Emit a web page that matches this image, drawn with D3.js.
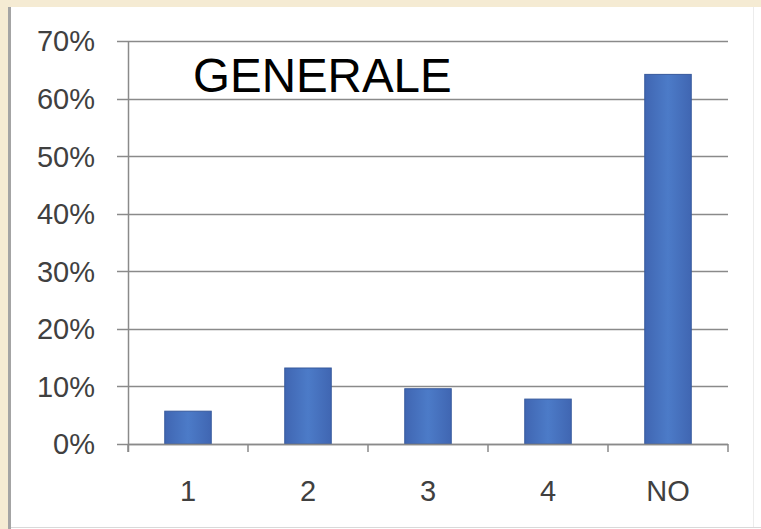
<!DOCTYPE html>
<html>
<head>
<meta charset="utf-8">
<script src="https://cdn.jsdelivr.net/npm/d3@7"></script>
<style>
  html, body { margin: 0; padding: 0; background: #f5ebd3; }
  svg { display: block; }
</style>
</head>
<body>
<script>
// Risposte per categoria (quota sul totale)
const categories = ["1", "2", "3", "4", "NO"];
const values = [0.057, 0.132, 0.096, 0.078, 0.642];
const yTicks = [0, 0.1, 0.2, 0.3, 0.4, 0.5, 0.6, 0.7];
const title = "GENERALE";

const W = 761, H = 529;
const svg = d3.select("body").append("svg").attr("width", W).attr("height", H);

// Frame: beige page, grey left rule, white panel
svg.append("rect").attr("width", W).attr("height", H).attr("fill", "#f5ebd3");
svg.append("rect").attr("x", 11).attr("y", 7).attr("width", W - 11).attr("height", H - 7).attr("fill", "#ffffff");
svg.append("rect").attr("x", 8).attr("y", 7).attr("width", 3).attr("height", H - 7).attr("fill", "#a4a4a4");
svg.append("line").attr("x1", 11).attr("x2", W).attr("y1", 527.5).attr("y2", 527.5)
  .attr("stroke", "#d9d9d9").attr("stroke-width", 1);
svg.append("line").attr("x1", 753.5).attr("x2", 753.5).attr("y1", 7).attr("y2", 527)
  .attr("stroke", "#ececec").attr("stroke-width", 1);

const plotLeft = 128, plotRight = 728, plotTop = 41, plotBottom = 444;

const x = d3.scaleBand().domain(categories).range([plotLeft, plotRight])
  .paddingInner(0.6125).paddingOuter(0.30625);
const y = d3.scaleLinear().domain([0, 0.7]).range([plotBottom, plotTop]);

const axisColor = "#8a8a8a";
const labelFont = "'Liberation Sans', Arial, sans-serif";

// Horizontal gridlines with short outside ticks
svg.append("g").selectAll("line").data(yTicks).join("line")
  .attr("x1", plotLeft - 11).attr("x2", plotRight)
  .attr("y1", d => Math.round(y(d)) + 0.5).attr("y2", d => Math.round(y(d)) + 0.5)
  .attr("stroke", axisColor).attr("stroke-width", 1.5);

// Y axis labels
const fmt = d3.format(".0%");
svg.append("g").selectAll("text").data(yTicks).join("text")
  .attr("x", 95).attr("y", d => y(d))
  .attr("dy", "0.36em").attr("text-anchor", "end")
  .attr("font-family", labelFont).attr("font-size", 29).attr("fill", "#404040")
  .text(d => fmt(d));

// Gradient for the bars
const defs = svg.append("defs");
const grad = defs.append("linearGradient").attr("id", "barGrad")
  .attr("x1", "0%").attr("x2", "100%").attr("y1", "0%").attr("y2", "0%");
grad.append("stop").attr("offset", "0%").attr("stop-color", "#4066b2");
grad.append("stop").attr("offset", "50%").attr("stop-color", "#4c7bc8");
grad.append("stop").attr("offset", "100%").attr("stop-color", "#4066b2");

// Bars
svg.append("g").selectAll("rect").data(values).join("rect")
  .attr("x", (d, i) => x(categories[i]))
  .attr("y", d => y(d))
  .attr("width", x.bandwidth())
  .attr("height", d => y(0) - y(d))
  .attr("fill", "url(#barGrad)")
  .attr("stroke", "#37599c").attr("stroke-width", 1);

// Axes lines
svg.append("line").attr("x1", plotLeft + 0.5).attr("x2", plotLeft + 0.5).attr("y1", plotTop).attr("y2", plotBottom + 8)
  .attr("stroke", axisColor).attr("stroke-width", 1.5);
svg.append("line").attr("x1", plotLeft).attr("x2", plotRight).attr("y1", plotBottom + 0.5).attr("y2", plotBottom + 0.5)
  .attr("stroke", axisColor).attr("stroke-width", 1.5);

// Category boundary ticks
const boundaries = categories.map(c => x(c) - x.step() * x.paddingInner() / 2).concat([plotRight]);
svg.append("g").selectAll("line").data(boundaries).join("line")
  .attr("x1", d => d).attr("x2", d => d)
  .attr("y1", plotBottom).attr("y2", plotBottom + 8)
  .attr("stroke", axisColor).attr("stroke-width", 1.5);

// Category labels
svg.append("g").selectAll("text").data(categories).join("text")
  .attr("x", d => x(d) + x.bandwidth() / 2).attr("y", 501)
  .attr("text-anchor", "middle")
  .attr("font-family", labelFont).attr("font-size", 29).attr("fill", "#404040")
  .text(d => d);

// Title
svg.append("text").attr("x", 193).attr("y", 92)
  .attr("font-family", labelFont).attr("font-size", 47.5).attr("fill", "#000000")
  .text(title);
</script>
</body>
</html>
